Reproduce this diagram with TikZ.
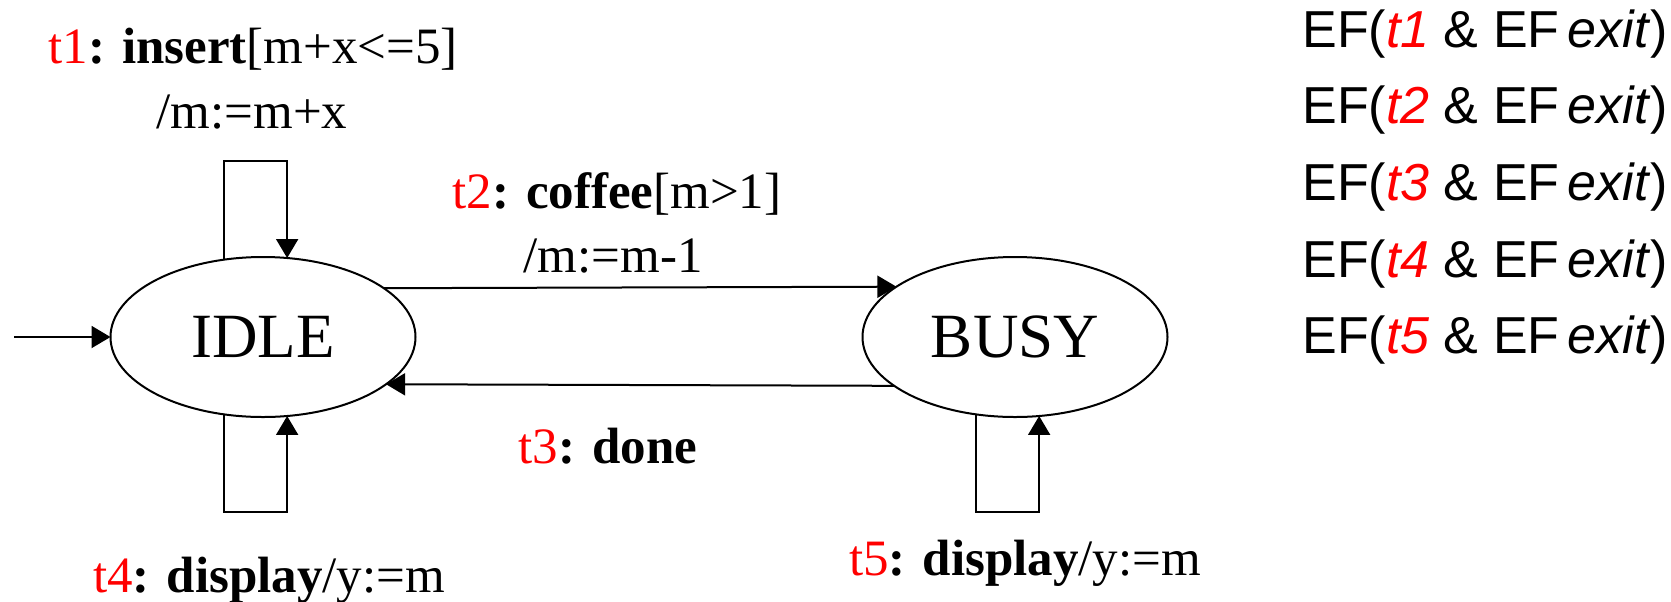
\documentclass[tikz,border=0pt]{standalone}
\usepackage{fontspec}
\setmainfont{Liberation Serif}
\setsansfont{Liberation Sans}
\usetikzlibrary{arrows.meta,shapes.geometric}
\begin{document}
\begin{tikzpicture}[x=0.5pt,y=-0.5pt,
  state/.style={ellipse, draw, line width=1pt, minimum width=152.5pt,
    minimum height=80pt, inner sep=0pt, outer sep=0pt,
    font=\fontsize{31.5}{36}\selectfont},
  arr/.style={line width=1pt, -{Triangle[length=9.5pt,width=11pt]}},
  lab/.style={anchor=base, inner sep=0pt, font=\fontsize{25.5}{30}\selectfont},
  ef/.style={anchor=base west, inner sep=0pt,
    font=\sffamily\fontsize{26}{30}\selectfont}]
\useasboundingbox (0,0) rectangle (1671,601);

% states
\node[state] (IDLE) at (263,337) {IDLE};
\node[state] (BUSY) at (1015,337) {BUSY};

% initial transition
\coordinate (init) at (14,337);
\draw[arr] (init) -- (IDLE.west);

% t2 and t3 between the states
\draw[arr] (IDLE.22.1) -- (BUSY.157.9);
\draw[arr] (BUSY.-158.5) -- (IDLE.-21.5);

% self loops t1, t4, t5
\draw[arr] (IDLE.117.4) -- ++(0,-98.8) -| (IDLE.73.1);
\draw[arr] (IDLE.-117.4) -- ++(0,97.8) -| (IDLE.-73.1);
\draw[arr] (BUSY.-117.4) -- ++(0,97.8) -| (BUSY.-73.1);

% transition labels
\node[lab] (t1a) at (253,63) {{\color{red}t1}\textbf{: insert}[m+x<=5]};
\node[lab] (t1b) at (252,128) {/m:=m+x};
\node[lab] (t2a) at (617,208) {{\color{red}t2}\textbf{: coffee}[m>1]};
\node[lab] (t2b) at (613,272) {/m:=m-1};
\node[lab] (t3l) at (608,463) {{\color{red}t3}\textbf{: done}};
\node[lab] (t4l) at (269,592) {{\color{red}t4}\textbf{: display}/y:=m};
\node[lab] (t5l) at (1025,575) {{\color{red}t5}\textbf{: display}/y:=m};

% CTL properties
\node[ef] (ef1) at (1302,47)  {EF(\textit{\color{red}t1} \& EF\hspace{4pt}\textit{exit})};
\node[ef] (ef2) at (1302,123) {EF(\textit{\color{red}t2} \& EF\hspace{4pt}\textit{exit})};
\node[ef] (ef3) at (1302,200) {EF(\textit{\color{red}t3} \& EF\hspace{4pt}\textit{exit})};
\node[ef] (ef4) at (1302,277) {EF(\textit{\color{red}t4} \& EF\hspace{4pt}\textit{exit})};
\node[ef] (ef5) at (1302,353) {EF(\textit{\color{red}t5} \& EF\hspace{4pt}\textit{exit})};
\end{tikzpicture}
\end{document}
